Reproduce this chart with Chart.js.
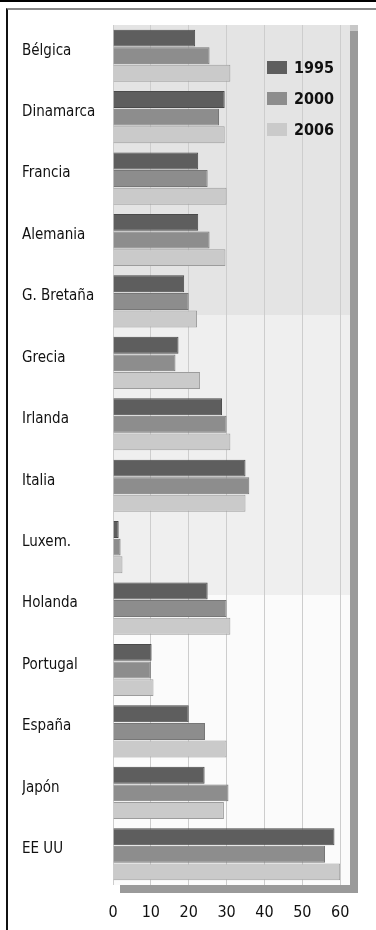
<!DOCTYPE html>
<html>
<head>
  <meta charset="utf-8">
  <title>Gasto por país</title>
  <style>
    body {
      margin: 0;
      background: #fff;
      font-family: "Liberation Sans Narrow", "DejaVu Sans Condensed", sans-serif;
    }
    #page {
      position: relative;
      width: 376px;
      height: 930px;
      overflow: hidden;
    }
    #topRule {
      position: absolute;
      left: 0; top: 0;
      width: 376px; height: 2px;
      background: #000;
    }
    #frame {
      position: absolute;
      left: 6px; top: 8px;
      width: 370px; height: 922px;
      border-top: 2px solid #888;
      border-left: 2px solid #111;
      box-sizing: border-box;
    }
    #chart {
      position: absolute;
      left: 0; top: 0;
    }
    #legend {
      position: absolute;
      left: 267px;
      top: 58px;
    }
    .legend-item {
      height: 31px;
      line-height: 19px;
      font-weight: bold;
      font-size: 16px;
      color: #111;
      white-space: nowrap;
    }
    .legend-item span {
      display: inline-block;
      width: 20px;
      height: 13px;
      margin-right: 7px;
      vertical-align: -1px;
    }
  </style>
</head>
<body>
  <div id="page">
    <canvas id="chart" width="376" height="930"></canvas>
    <div id="topRule"></div>
    <div id="frame"></div>
    <div id="legend"></div>
  </div>

  <script src="https://cdn.jsdelivr.net/npm/chart.js"></script>
  <script>
    const countries = [
      "Bélgica", "Dinamarca", "Francia", "Alemania", "G. Bretaña", "Grecia", "Irlanda",
      "Italia", "Luxem.", "Holanda", "Portugal", "España", "Japón", "EE UU"
    ];
    const years = ["1995", "2000", "2006"];
    const values1995 = [21.7, 29.5, 22.5, 22.5, 18.8, 17.3, 28.8, 35, 1.5, 25, 10.2, 20, 24.2, 58.5];
    const values2000 = [25.5, 28, 25, 25.5, 20, 16.5, 30, 36, 2, 30, 10, 24.3, 30.5, 56];
    const values2006 = [31, 29.5, 30, 29.7, 22.2, 23, 31, 35, 2.5, 31, 10.7, 30, 29.3, 60];
    const xTicks = [0, 10, 20, 30, 40, 50, 60];

    const fills = ["#5e5e5e", "#8d8d8d", "#cacaca"];
    const edges = ["#4a4a4a", "#777777", "#9c9c9c"];
    const font = "'Liberation Sans Narrow', 'DejaVu Sans Condensed', sans-serif";

    // plot background, 3D wall on the right and floor underneath
    const wallPlugin = {
      id: 'wall',
      beforeDraw(chart) {
        const { ctx, chartArea: a } = chart;
        ctx.save();
        ctx.fillStyle = '#e4e4e4';
        ctx.fillRect(a.left, a.top, a.right - a.left, 290);
        ctx.fillStyle = '#efefef';
        ctx.fillRect(a.left, a.top + 290, a.right - a.left, 280);
        ctx.fillStyle = '#fbfbfb';
        ctx.fillRect(a.left, a.top + 570, a.right - a.left, a.bottom - a.top - 570);
        // right wall
        ctx.fillStyle = '#9a9a9a';
        ctx.fillRect(a.right, a.top + 6, 8, a.bottom - a.top + 2);
        ctx.fillStyle = '#c8c8c8';
        ctx.fillRect(a.right, a.top, 8, 6);
        // floor
        ctx.fillStyle = '#9a9a9a';
        ctx.fillRect(a.left + 7, a.bottom, a.right - a.left + 1, 8);
        ctx.restore();
      }
    };

    new Chart(document.getElementById('chart'), {
      type: 'bar',
      data: {
        labels: countries,
        datasets: [values1995, values2000, values2006].map((vals, i) => ({
          label: years[i],
          data: vals,
          backgroundColor: fills[i],
          borderColor: edges[i],
          borderWidth: 1,
          barPercentage: 0.96,
          categoryPercentage: 0.86
        }))
      },
      options: {
        indexAxis: 'y',
        responsive: false,
        animation: false,
        layout: { padding: { left: 22, right: 26, top: 25, bottom: 0 } },
        plugins: {
          legend: { display: false },
          tooltip: { enabled: false }
        },
        scales: {
          x: {
            min: 0,
            max: 62.6,
            afterBuildTicks(scale) {
              scale.ticks = xTicks.map(v => ({ value: v }));
            },
            afterFit(scale) { scale.height = 45; },
            border: { display: false },
            grid: { color: '#cdcdcd', drawTicks: false },
            ticks: {
              padding: 18,
              color: '#111',
              font: { family: font, size: 16 }
            }
          },
          y: {
            afterFit(scale) { scale.width = 91; },
            border: { display: false },
            grid: { display: false },
            ticks: {
              crossAlign: 'far',
              labelOffset: -5,
              color: '#111',
              font: { family: font, size: 15 }
            }
          }
        }
      },
      plugins: [wallPlugin]
    });

    const legend = document.getElementById('legend');
    years.forEach((y, i) => {
      const item = document.createElement('div');
      item.className = 'legend-item';
      item.innerHTML = `<span style="background:${fills[i]}"></span>${y}`;
      legend.appendChild(item);
    });
  </script>
</body>
</html>
